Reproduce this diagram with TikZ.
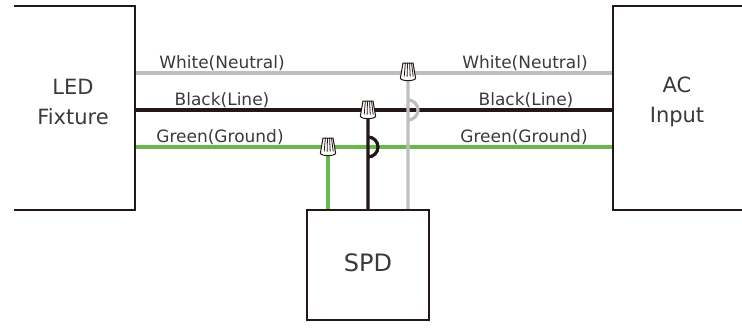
\documentclass[tikz,border=0pt]{standalone}
\usepackage{fontspec}
\setmainfont{DejaVu Sans}
\definecolor{boxc}{HTML}{231815}
\definecolor{blk}{HTML}{231815}
\definecolor{wht}{HTML}{BEBEBE}
\definecolor{grn}{HTML}{68B94A}
\definecolor{txt}{HTML}{3A3A3A}
\begin{document}
\begin{tikzpicture}[x=1pt,y=-1pt,
  boxline/.style={line width=2.8pt, draw=boxc, line cap=butt},
  frame/.style={draw=none, minimum width=#1, inner sep=0pt, outer sep=0pt},
  wire/.style={line width=3.2pt},
  lbl/.style={font=\fontsize{17}{20}\selectfont, text=txt, anchor=base, inner sep=0pt},
  big/.style={font=\fontsize{21}{30}\selectfont, text=txt, align=center, inner sep=0pt},
  nut/.pic={
    \draw[line width=1pt, draw=blk, fill=white, line join=round]
      (-5,-9) -- (5,-9) -- (7.6,6) .. controls (7.8,9.5) and (-7.8,9.5) .. (-7.6,6) -- cycle;
    \draw[line width=0.8pt, draw=blk]
      (-2.6,-9) -- (-3.8,4.5) (-0.5,-9) -- (-0.9,4.5) (1.6,-9) -- (2.2,4.5) (3.5,-9) -- (5.2,4.5);
  }]
\useasboundingbox (0,0) rectangle (742,327);
% boxes (invisible frames)
\node[frame=121pt, minimum height=204pt] (led) at (74.5,108) {};
\node[frame=129pt, minimum height=204pt] (ac) at (677.5,108) {};
\node[frame=122pt, minimum height=110pt] (spd) at (368,265) {};
% wire level coordinates
\coordinate (wl) at (0,73);
\coordinate (bl) at (0,110);
\coordinate (gl) at (0,147);
% nut positions
\coordinate (nutW) at (408,72);
\coordinate (nutB) at (368,110);
\coordinate (nutG) at (328,147);
% horizontal wires
\draw[wire, draw=wht] (led.east |- wl) -- (ac.west |- wl);
\draw[wire, draw=blk] (led.east |- bl) -- (ac.west |- bl);
\draw[wire, draw=grn] (led.east |- gl) -- (ac.west |- gl);
% vertical wires to SPD
\draw[wire, draw=grn] (nutG) -- (nutG |- spd.north);
\draw[wire, draw=blk] (nutB) -- ([yshift=-10pt]nutB |- gl) arc[start angle=-90, end angle=90, radius=10pt] -- (nutB |- spd.north);
\draw[wire, draw=wht] (nutW) -- ([yshift=-10pt]nutW |- bl) arc[start angle=-90, end angle=90, radius=10pt] -- (nutW |- spd.north);
% box outlines
\draw[boxline] (led.north west) -- (led.north east) -- (led.south east) -- (led.south west);
\draw[boxline] (ac.north east) -- (ac.north west) -- (ac.south west) -- (ac.south east);
\draw[boxline] (spd.north west) rectangle (spd.south east);
% wire nuts
\pic at (nutW) {nut};
\pic at (nutB) {nut};
\pic at (nutG) {nut};
% texts
\node[big] (ledt) at (73,102) {LED\\Fixture};
\node[big] (act) at (677,102) {AC\\Input};
\node[big, font=\fontsize{24}{28}\selectfont] (spdt) at (368,263) {SPD};
\node[lbl] (lw) at (222,68) {White(Neutral)};
\node[lbl] (rw) at (525,68) {White(Neutral)};
\node[lbl] (lb) at (222,105) {Black(Line)};
\node[lbl] (rb) at (526,105) {Black(Line)};
\node[lbl] (lg) at (220,142) {Green(Ground)};
\node[lbl] (rg) at (524,142) {Green(Ground)};
\end{tikzpicture}
\end{document}
